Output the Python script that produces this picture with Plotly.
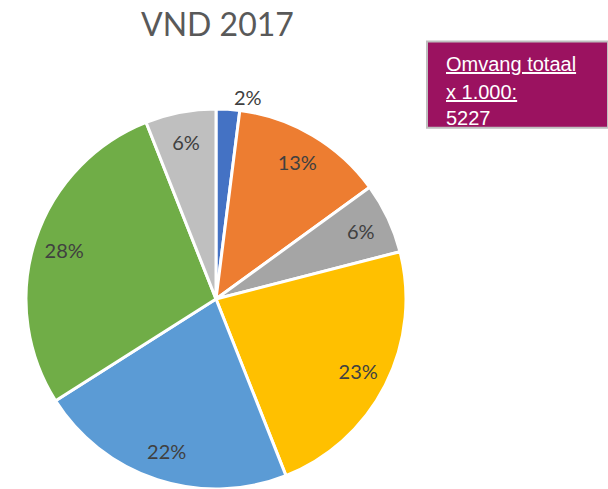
import plotly.graph_objects as go

categories = ["A", "B", "C", "D", "E", "F", "G"]
values = [2, 13, 6, 23, 22, 28, 6]
colors = ["#4472C4", "#ED7D31", "#A5A5A5", "#FFC000", "#5B9BD5", "#70AD47", "#BFBFBF"]
label_pos = ["outside", "inside", "inside", "inside", "inside", "inside", "inside"]
title_text = "VND 2017"
box_lines = ["<u>Omvang totaal</u>", "<u>x 1.000:</u>", "5227"]

W, H = 608, 495  # the pie is cut off at the bottom edge of the 489px window
dom_x = [26 / W, 406 / W]
dom_y = [0.0, 1 - 109 / H]

fig = go.Figure()
# actual pie
fig.add_trace(go.Pie(
    labels=categories, values=values, sort=False, direction="clockwise", rotation=0,
    marker=dict(colors=colors, line=dict(color="white", width=3)),
    textinfo="none", domain=dict(x=dom_x, y=dom_y), hoverinfo="skip",
))
# transparent ring carrying the labels
fig.add_trace(go.Pie(
    labels=categories, values=values, sort=False, direction="clockwise", rotation=0,
    hole=0.68,
    marker=dict(colors=["rgba(0,0,0,0)"] * len(values), line=dict(width=0)),
    texttemplate="%{value}%", textposition=label_pos,
    insidetextorientation="horizontal",
    textfont=dict(family="Lato", size=20, color="#404040"),
    domain=dict(x=dom_x, y=dom_y),
))

fig.add_shape(type="rect", xref="paper", yref="paper",
              x0=427 / W, x1=1.0, y0=1 - 129 / H, y1=1 - 42 / H,
              fillcolor="#9B1260", line=dict(color="#BFBFBF", width=2))
for i, (txt, yc) in enumerate(zip(box_lines, [65, 93, 119])):
    fig.add_annotation(x=444 / W, y=1 - yc / H, xref="paper", yref="paper",
                       text=txt, showarrow=False, xanchor="left", yanchor="middle",
                       font=dict(family="Liberation Sans", size=20, color="white"))

fig.add_annotation(x=217 / W, y=1 - 24 / H, xref="paper", yref="paper",
                   text=title_text, showarrow=False, xanchor="center", yanchor="middle",
                   font=dict(family="Lato", size=32, color="#595959"))

fig.update_layout(width=W, height=H, margin=dict(l=0, r=0, t=0, b=0),
                  showlegend=False, paper_bgcolor="white", plot_bgcolor="white")
fig.write_html(
    "out.html", config={"displayModeBar": False},
    post_script=("document.body.style.margin='0';"
                 "document.body.style.overflow='hidden';"
                 "document.documentElement.style.overflow='hidden';"),
)
